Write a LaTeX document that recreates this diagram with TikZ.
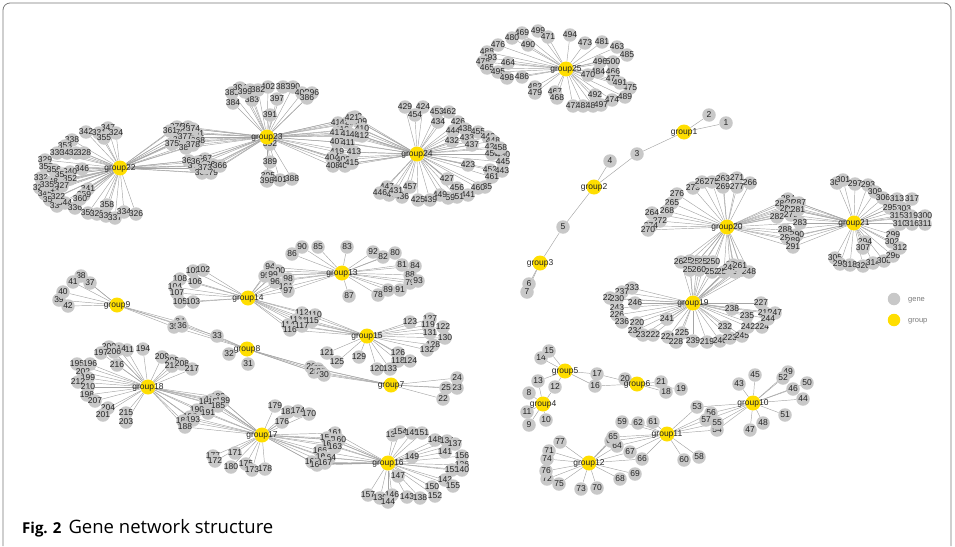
\documentclass[tikz,border=0pt]{standalone}
\usepackage{fontspec}
\newfontfamily\netfont{Liberation Sans}
\newfontfamily\capfont{Open Sans}
\definecolor{genegray}{RGB}{200,200,200}
\definecolor{grpyellow}{RGB}{255,222,0}
\definecolor{edgegray}{RGB}{165,165,165}
\definecolor{labeltext}{RGB}{35,35,35}
\definecolor{framecol}{RGB}{120,120,120}
\definecolor{legtext}{RGB}{120,120,120}
\pgfdeclarelayer{bg}
\pgfsetlayers{bg,main}
\tikzset{
  gene/.style={circle, fill=genegray, inner sep=0pt, minimum size=13.5pt, text=labeltext, font=\fontsize{8.5}{8.5}\netfont},
  grp/.style={circle, fill=grpyellow, inner sep=0pt, minimum size=15pt, text=labeltext, font=\fontsize{8.5}{8.5}\netfont},
  edge/.style={draw=edgegray, line width=0.45pt},
  legtxt/.style={anchor=west, text=legtext, font=\fontsize{7.5}{7.5}\netfont, inner sep=0pt}
}
\newcommand{\genes}[1]{\foreach \n/\x/\y in #1 {\node[gene] (g\n) at (\x,\y) {\makebox[0pt]{\n}};}}
\newcommand{\links}[2]{\foreach \n/\x/\y in #1 {\draw[edge] (g\n) -- (#2);}}
% group 22
\def\LA{347/108/128,342/86/132,331/99/133,355/104/138,338/72/140,353/65/146,330/57/153,349/67/153,325/76/153,328/84/153,329/45/160,346/82/169,340/70/172,357/46/167,356/54/170,351/62/175,352/70/179,332/41/178,348/51/182,327/62/186,321/40/188,343/52/190,345/45/194,354/50/200,333/57/206,344/65/203,336/75/208,341/88/189,359/84/195,360/80/199,358/107/205,350/88/213,323/97/214,339/106/216,337/115/218,334/124/212,326/136/214,335/47/185,322/58/197,324/116/133}
% shared 22-23
\def\LAB{376/177/127,365/188/127,370/178/133,381/197/134,372/180/140,368/198/141,380/186/148,374/193/129,377/185/137,375/172/144,378/193/145,361/170/131,364/189/161,367/205/159,371/195/166,363/213/165,369/202/173,379/211/173,362/198/162,366/220/166,373/205/168}
% group 23
\def\LB{385/232/93,384/233/103,394/240/88,393/250/90,383/252/100,402/268/87,397/277/99,387/283/87,390/293/87,400/302/93,396/312/93,386/307/98,391/270/115,392/270/144,389/270/162,395/268/176,398/267/181,401/280/180,388/292/179,399/245/92,382/258/90}
% shared 23-24
\def\LBC{422/355/117,416/338/123,420/347/123,409/360/122,418/342/130,410/362/129,417/337/133,414/348/134,405/357/135,412/362/136,407/337/142,411/348/143,419/337/152,413/354/152,404/332/158,403/343/160,408/333/166,406/345/166,415/352/163,421/352/118}
% group 24
\def\LC{429/405/107,424/423/107,454/415/115,453/437/112,462/449/112,434/438/122,426/458/122,444/453/131,438/465/129,455/478/132,432/452/141,433/467/138,442/488/137,448/493/141,428/492/147,450/492/154,430/503/155,423/468/165,445/503/162,452/490/170,443/502/171,461/492/177,435/485/187,460/478/188,427/447/179,456/457/188,441/468/195,451/457/197,459/448/198,449/440/195,439/430/200,425/418/200,457/410/187,436/402/197,447/387/187,440/389/195,446/380/193,437/472/145,458/500/148,431/396/191}
% group 25
\def\LD{469/522/33,499/538/31,471/548/37,494/570/35,473/585/43,481/602/42,463/617/47,485/627/55,496/600/62,500/613/62,484/598/72,466/613/72,477/613/79,475/630/88,480/512/38,490/528/45,476/498/45,488/487/52,493/490/58,478/483/62,464/508/63,465/487/68,495/498/72,498/507/78,486/522/77,470/588/75,482/535/87,479/535/93,467/555/92,468/557/98,492/595/95,474/612/100,489/625/97,472/573/106,483/583/106,487/593/106,491/620/83,497/601/105}
% group 20
\def\LE{273/693/188,267/702/182,275/712/182,263/723/179,271/737/178,266/750/183,269/723/187,277/737/187,276/677/194,265/672/203,268/667/211,264/652/213,272/660/221,274/651/226,270/648/230}
% shared 20-21
\def\LEF{284/788/199,286/782/204,285/793/203,287/799/203,280/787/209,278/793/210,282/777/217,279/791/215,283/800/223,288/785/230,290/797/235,292/787/238,289/793/241,291/793/247,281/798/210}
% shared 19-20
\def\LGE{262/681/262,251/690/261,256/697/262,258/705/262,257/690/270,260/699/270,250/713/262,252/712/272,259/733/265,253/724/272,254/735/272,255/742/270,248/749/272,249/730/268,261/740/266}
% group 21
\def\LF{304/837/183,301/843/180,297/855/184,293/868/185,309/875/192,306/883/198,294/865/242,307/863/248,305/835/258,298/840/264,318/850/265,320/863/266,314/873/263,308/884/261,296/893/256,299/893/235,302/892/242,313/897/199,317/912/199,295/890/208,303/904/209,315/897/216,319/911/216,300/925/216,310/900/224,316/912/224,311/925/224,312/900/248}
% group 19
\def\LG{233/632/288,237/622/292,229/610/298,230/617/299,246/635/303,243/617/308,226/617/315,236/622/322,220/637/323,241/667/319,234/635/331,231/643/335,222/653/335,221/668/337,225/682/333,228/676/342,239/693/341,219/707/342,240/720/341,223/730/338,245/742/336,232/725/327,242/748/327,224/762/327,238/732/309,235/747/316,227/761/303,218/765/313,247/775/313,244/768/319}
% group 9, 8, 7
\def\LH{37/90/283,38/81/276,39/59/300,40/63/292,41/73/282,42/68/306}
\def\LHI{33/217/336,34/180/322,35/174/327,36/182/326}
\def\LI{31/248/364,32/229/354}
\def\LIJ{26/311/367,27/318/369,28/314/372,29/321/372,30/324/375}
\def\LJ{22/443/399,23/457/388,24/457/378,25/446/388}
% group 14, 13, 15
\def\LK{109/193/271,102/203/270,108/180/279,106/195/282,104/175/287,107/177/293,105/180/302,103/193/302}
\def\LKL{94/270/267,100/278/271,95/265/276,99/273/275,96/275/282,98/288/279,101/286/287,97/288/291}
\def\LL{86/292/254,90/302/247,85/318/247,83/347/247,92/373/252,82/383/257,80/395/253,81/402/265,84/415/266,88/410/275,79/410/283,93/418/281,89/388/290,91/400/290,78/378/295,87/349/296}
\def\LKM{112/302/313,110/315/315,113/296/320,111/305/321,115/312/321,114/288/325,116/290/330,117/302/326}
\def\LM{123/410/322,127/430/319,119/428/325,122/443/327,131/430/333,130/445/338,128/433/345,132/427/350,121/327/353,125/337/362,129/359/357,126/398/353,118/398/361,124/410/361,120/377/369,133/390/369}
% group 18, 17, 16
\def\LN{194/143/349,211/127/350,214/119/349,200/109/347,197/101/353,206/114/352,216/117/365,195/77/364,196/90/364,202/83/372,199/88/378,212/78/382,210/88/387,198/87/395,207/95/401,204/108/408,201/103/415,215/126/413,203/126/422,209/162/357,205/172/361,213/172/366,208/182/364,217/192/369}
\def\LNO{183/218/397,187/206/402,182/212/400,186/215/402,189/223/401,185/218/406,190/197/410,191/208/413,192/190/417,184/183/421,193/193/420,188/185/427}
\def\LO{179/275/406,181/288/412,174/298/411,170/309/414,176/282/422,177/213/456,172/215/461,171/235/453,180/231/467,175/246/464,173/252/470,178/265/469}
\def\LOP{161/335/433,159/327/438,158/333/440,160/339/440,162/329/444,163/335/447,166/320/451,169/323/457,164/329/458,165/312/462,168/317/465,167/325/463}
\def\LP{135/393/435,154/400/432,145/412/433,151/422/433,148/435/440,134/447/441,137/455/444,141/445/452,156/462/456,149/412/457,136/462/465,153/452/470,140/462/470,147/398/476,150/432/487,142/445/480,155/453/486,152/435/496,157/368/495,139/380/498,146/392/495,144/388/502,143/407/497,138/420/498}
% small groups
\def\LQ{1/726/123,2/709/115}
\def\LQR{3/637/154}
\def\LR{4/610/161}
\def\LRS{5/563/227}
\def\LS{6/529/284,7/527/292}
\def\LT{8/529/393,9/529/425,10/546/420,11/527/412}
\def\LTU{12/555/387,13/538/381}
\def\LU{14/541/358,15/549/351}
\def\LUV{16/595/386,17/597/374}
\def\LV{18/666/392,19/681/389,20/625/379,21/661/382}
\def\LW{43/739/384,44/803/399,45/755/375,46/793/389,47/750/430,48/763/423,49/788/372,50/807/383,51/785/415,52/783/378}
\def\LWX{53/697/407,54/717/430,55/717/423,56/711/413,57/706/420}
\def\LX{58/699/457,59/622/422,60/684/460,61/653/422,62/638/423}
\def\LXY{63/611/441,64/617/446,65/613/437,66/642/459,67/630/452}
\def\LY{68/620/479,69/635/474,70/597/488,71/549/451,72/547/479,73/581/489,74/547/459,75/559/484,76/546/471,77/560/442}
\begin{document}
\begin{tikzpicture}[x=1pt,y=-1pt]
\useasboundingbox (0,0) rectangle (955,546);
\draw[framecol, line width=0.8pt, rounded corners=7pt] (3,546) -- (3,3) -- (951,3) -- (951,546);
% gene nodes
\genes{\LA}\genes{\LAB}\genes{\LB}\genes{\LBC}\genes{\LC}\genes{\LD}
\genes{\LE}\genes{\LEF}\genes{\LGE}\genes{\LF}\genes{\LG}
\genes{\LH}\genes{\LHI}\genes{\LI}\genes{\LIJ}\genes{\LJ}
\genes{\LK}\genes{\LKL}\genes{\LL}\genes{\LKM}\genes{\LM}
\genes{\LN}\genes{\LNO}\genes{\LO}\genes{\LOP}\genes{\LP}
\genes{\LQ}\genes{\LQR}\genes{\LR}\genes{\LRS}\genes{\LS}
\genes{\LT}\genes{\LTU}\genes{\LU}\genes{\LUV}\genes{\LV}
\genes{\LW}\genes{\LWX}\genes{\LX}\genes{\LXY}\genes{\LY}
% group nodes
\foreach \g/\x/\y in {1/684/132,2/594/187,3/540/263,4/543/404,5/565/371,6/637/384,7/391/385,8/247/349,9/117/305,10/753/403,11/667/434,12/589/463,13/342/273,14/248/298,15/367/336,16/388/463,17/262/435,18/148/387,19/693/303,20/727/227,21/854/223,22/120/168,23/267/137,24/417/154,25/566/69}
  {\node[grp] (group\g) at (\x,\y) {\makebox[0pt]{group\g}};}
% edges
\begin{pgfonlayer}{bg}
\links{\LA}{group22}\links{\LAB}{group22}\links{\LAB}{group23}\links{\LB}{group23}
\links{\LBC}{group23}\links{\LBC}{group24}\links{\LC}{group24}\links{\LD}{group25}
\links{\LE}{group20}\links{\LEF}{group20}\links{\LEF}{group21}\links{\LF}{group21}
\links{\LGE}{group20}\links{\LGE}{group19}\links{\LG}{group19}
\links{\LH}{group9}\links{\LHI}{group9}\links{\LHI}{group8}\links{\LI}{group8}
\links{\LIJ}{group8}\links{\LIJ}{group7}\links{\LJ}{group7}
\links{\LK}{group14}\links{\LKL}{group14}\links{\LKL}{group13}\links{\LL}{group13}
\links{\LKM}{group14}\links{\LKM}{group15}\links{\LM}{group15}
\links{\LN}{group18}\links{\LNO}{group18}\links{\LNO}{group17}\links{\LO}{group17}
\links{\LOP}{group17}\links{\LOP}{group16}\links{\LP}{group16}
\links{\LQ}{group1}\links{\LQR}{group1}\links{\LQR}{group2}\links{\LR}{group2}
\links{\LRS}{group2}\links{\LRS}{group3}\links{\LS}{group3}
\links{\LT}{group4}\links{\LTU}{group4}\links{\LTU}{group5}\links{\LU}{group5}
\links{\LUV}{group5}\links{\LUV}{group6}\links{\LV}{group6}
\links{\LW}{group10}\links{\LWX}{group10}\links{\LWX}{group11}\links{\LX}{group11}
\links{\LXY}{group11}\links{\LXY}{group12}\links{\LY}{group12}
\end{pgfonlayer}
% legend
\node[circle, fill=genegray, minimum size=12.5pt, inner sep=0pt] (legGene) at (894,299) {};
\node[circle, fill=grpyellow, minimum size=12.5pt, inner sep=0pt] (legGroup) at (894,320) {};
\node[legtxt] (legGeneTxt) at (908,300) {gene};
\node[legtxt] (legGroupTxt) at (908,321) {group};
% caption
\node[anchor=base west, inner sep=0pt, text=black, font=\fontsize{15}{15}\capfont] (caption) at (22,533) {\textbf{Fig. 2}\hspace{7pt}{\fontsize{18.5}{18.5}\selectfont Gene network structure}};
\end{tikzpicture}
\end{document}
